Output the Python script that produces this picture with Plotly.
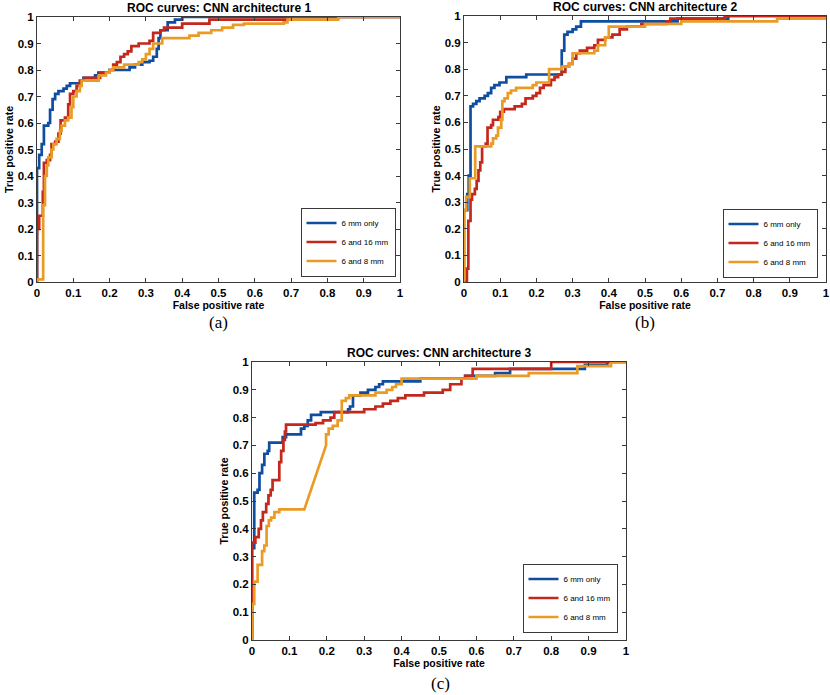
import plotly.graph_objects as go

# ---------------- data ----------------
series_names = ["6 mm only", "6 and 16 mm", "6 and 8 mm"]
panel_titles = ["ROC curves: CNN architecture 1",
                "ROC curves: CNN architecture 2",
                "ROC curves: CNN architecture 3"]
panel_labels = ["(a)", "(b)", "(c)"]
x_axis_title = "False positive rate"
y_axis_title = "True positive rate"
tick_values = [0, 0.1, 0.2, 0.3, 0.4, 0.5, 0.6, 0.7, 0.8, 0.9, 1]
tick_labels = ["0", "0.1", "0.2", "0.3", "0.4", "0.5", "0.6", "0.7", "0.8", "0.9", "1"]

# Each curve: (fpr, tpr) step points - move right to fpr[i], then up to tpr[i]
# --- architecture 1 ---
a1_fpr = [0, 0, 0.006, 0.013, 0.019, 0.031, 0.036, 0.043, 0.05, 0.059, 0.073, 0.082, 0.091,
          0.123, 0.128, 0.16, 0.169, 0.20, 0.255, 0.27, 0.29, 0.31, 0.32, 0.33, 0.335, 0.34,
          0.36, 0.38, 0.40, 1.0]
a1_tpr = [0, 0.43, 0.48, 0.52, 0.59, 0.60, 0.65, 0.69, 0.71, 0.72, 0.73, 0.74, 0.75,
          0.76, 0.77, 0.78, 0.79, 0.80, 0.81, 0.82, 0.83, 0.835, 0.85, 0.88, 0.92, 0.95,
          0.98, 0.99, 1.0, 1.0]
a2_fpr = [0, 0, 0.006, 0.016, 0.019, 0.027, 0.036, 0.040, 0.050, 0.059, 0.065, 0.077, 0.086,
          0.091, 0.10, 0.109, 0.118, 0.13, 0.174, 0.20, 0.21, 0.22, 0.23, 0.24, 0.25, 0.26,
          0.28, 0.31, 0.32, 0.34, 0.35, 0.40, 0.475, 0.69, 1.0]
a2_tpr = [0, 0.20, 0.25, 0.34, 0.45, 0.46, 0.48, 0.52, 0.53, 0.56, 0.61, 0.62, 0.67,
          0.71, 0.72, 0.74, 0.76, 0.77, 0.79, 0.80, 0.82, 0.83, 0.85, 0.86, 0.87, 0.89,
          0.90, 0.91, 0.94, 0.95, 0.96, 0.975, 0.99, 1.0, 1.0]
a3_fpr = [0, 0, 0.017, 0.022, 0.027, 0.031, 0.040, 0.045, 0.054, 0.063, 0.068, 0.077, 0.086,
          0.095, 0.10, 0.109, 0.118, 0.123, 0.17, 0.19, 0.20, 0.21, 0.24, 0.28, 0.29, 0.30,
          0.31, 0.32, 0.345, 0.42, 0.445, 0.48, 0.51, 0.54, 0.57, 0.68, 0.69, 0.83, 1.0]
a3_tpr = [0, 0.01, 0.29, 0.40, 0.44, 0.47, 0.50, 0.52, 0.54, 0.57, 0.59, 0.61, 0.62,
          0.66, 0.70, 0.72, 0.74, 0.76, 0.78, 0.79, 0.80, 0.81, 0.82, 0.83, 0.84, 0.86,
          0.88, 0.90, 0.92, 0.93, 0.94, 0.95, 0.96, 0.97, 0.975, 0.98, 0.99, 1.0, 1.0]

# --- architecture 2 ---
b1_fpr = [0, 0, 0.009, 0.013, 0.018, 0.025, 0.034, 0.043, 0.057, 0.066, 0.075, 0.084, 0.098,
          0.117, 0.172, 0.27, 0.277, 0.286, 0.30, 0.31, 0.323, 0.59, 0.73, 1.0]
b1_tpr = [0, 0.27, 0.33, 0.40, 0.66, 0.67, 0.68, 0.69, 0.70, 0.71, 0.73, 0.74, 0.75,
          0.77, 0.78, 0.87, 0.93, 0.94, 0.95, 0.96, 0.98, 0.99, 1.0, 1.0]
b2_fpr = [0, 0.008, 0.012, 0.018, 0.022, 0.03, 0.035, 0.04, 0.045, 0.05, 0.06, 0.065, 0.075,
          0.08, 0.095, 0.10, 0.11, 0.14, 0.16, 0.17, 0.19, 0.20, 0.21, 0.22, 0.24, 0.25,
          0.26, 0.27, 0.28, 0.29, 0.30, 0.31, 0.32, 0.34, 0.36, 0.37, 0.39, 0.41, 0.43,
          0.45, 0.49, 0.56, 0.57, 0.72, 1.0]
b2_tpr = [0, 0.05, 0.23, 0.31, 0.33, 0.35, 0.38, 0.42, 0.45, 0.51, 0.52, 0.58, 0.59,
          0.61, 0.62, 0.64, 0.65, 0.66, 0.67, 0.69, 0.70, 0.71, 0.73, 0.74, 0.76, 0.77,
          0.78, 0.79, 0.81, 0.82, 0.84, 0.86, 0.87, 0.88, 0.89, 0.91, 0.92, 0.93, 0.95,
          0.96, 0.97, 0.98, 0.99, 1.0, 1.0]
b3_fpr = [0, 0, 0.006, 0.016, 0.031, 0.075, 0.08, 0.089, 0.094, 0.103, 0.106, 0.112, 0.121,
          0.13, 0.144, 0.19, 0.20, 0.235, 0.27, 0.29, 0.30, 0.36, 0.37, 0.39, 0.40, 0.50,
          0.60, 0.865, 1.0]
b3_tpr = [0, 0.27, 0.32, 0.39, 0.51, 0.52, 0.54, 0.55, 0.58, 0.61, 0.68, 0.69, 0.71,
          0.72, 0.73, 0.74, 0.75, 0.80, 0.81, 0.82, 0.86, 0.87, 0.89, 0.92, 0.96, 0.97,
          0.98, 0.99, 0.99]

# --- architecture 3 ---
c1_fpr = [0, 0, 0.006, 0.015, 0.020, 0.027, 0.033, 0.042, 0.046, 0.082, 0.091, 0.131, 0.14,
          0.149, 0.158, 0.184, 0.257, 0.262, 0.27, 0.29, 0.31, 0.33, 0.34, 0.35, 0.45, 0.57,
          0.65, 0.69, 0.89, 0.95, 1.0]
c1_tpr = [0, 0.33, 0.53, 0.54, 0.60, 0.63, 0.67, 0.68, 0.71, 0.73, 0.74, 0.76, 0.77,
          0.79, 0.81, 0.82, 0.83, 0.84, 0.88, 0.89, 0.90, 0.91, 0.92, 0.93, 0.94, 0.95,
          0.96, 0.975, 0.99, 1.0, 1.0]
c2_fpr = [0, 0, 0.009, 0.018, 0.024, 0.029, 0.038, 0.044, 0.05, 0.055, 0.073, 0.078, 0.084,
          0.088, 0.091, 0.17, 0.19, 0.21, 0.22, 0.30, 0.33, 0.35, 0.37, 0.39, 0.41, 0.46,
          0.51, 0.53, 0.56, 0.57, 0.59, 0.80, 1.0]
c2_tpr = [0, 0.35, 0.37, 0.40, 0.43, 0.46, 0.49, 0.52, 0.54, 0.575, 0.64, 0.68, 0.72,
          0.75, 0.775, 0.78, 0.79, 0.80, 0.82, 0.83, 0.84, 0.85, 0.86, 0.87, 0.88, 0.89,
          0.90, 0.92, 0.94, 0.95, 0.975, 1.0, 1.0]
c3_fpr = [0, 0, 0.006, 0.015, 0.027, 0.033, 0.039, 0.045, 0.051, 0.06, 0.073, 0.14, 0.198,
          0.198, 0.205, 0.216, 0.229, 0.24, 0.251, 0.26, 0.33, 0.36, 0.375, 0.385, 0.40,
          0.60, 0.74, 0.87, 0.96, 1.0]
c3_tpr = [0, 0.13, 0.21, 0.27, 0.32, 0.34, 0.41, 0.43, 0.44, 0.46, 0.47, 0.47, 0.70,
          0.74, 0.76, 0.77, 0.79, 0.86, 0.87, 0.88, 0.89, 0.90, 0.91, 0.92, 0.94,
          0.95, 0.96, 0.985, 1.0, 1.0]
c3_diagonal_segments = [11]   # segment 11 -> 12 is a straight (tied-score) line

panels_data = [
    [(a1_fpr, a1_tpr, []), (a2_fpr, a2_tpr, []), (a3_fpr, a3_tpr, [])],
    [(b1_fpr, b1_tpr, []), (b2_fpr, b2_tpr, []), (b3_fpr, b3_tpr, [])],
    [(c1_fpr, c1_tpr, []), (c2_fpr, c2_tpr, []), (c3_fpr, c3_tpr, c3_diagonal_segments)],
]

# ---------------- styling / layout ----------------
W, H = 830, 695
colors = ["#0F4DA0", "#C4281C", "#EA9B26"]
# plot-area boxes in pixels: left, right, top, bottom
boxes = [(37, 400, 17, 282), (464, 826, 16, 282), (252, 626, 362, 640)]
legend_center = [(348, 242), (770, 243), (570, 598)]
label_pos = [(218, 322), (645, 322), (440, 683)]

SANS = "Liberation Sans, Arial, sans-serif"
SERIF = "Liberation Serif, Times New Roman, serif"


def fx_(px):
    return px / W


def fy_(py):
    return 1 - py / H


def roc_path(fpr, tpr, diagonal):
    xs, ys = [fpr[0]], [tpr[0]]
    for i in range(1, len(fpr)):
        if (i - 1) not in diagonal:
            xs.append(fpr[i]); ys.append(tpr[i - 1])
        xs.append(fpr[i]); ys.append(tpr[i])
    return xs, ys


fig = go.Figure()
for p, curves in enumerate(panels_data):
    ax = "" if p == 0 else str(p + 1)
    leg = "legend" if p == 0 else "legend" + str(p + 1)
    for s, (fx, ty, diag) in enumerate(curves):
        xs, ys = roc_path(fx, ty, diag)
        fig.add_trace(go.Scatter(
            x=xs, y=ys, mode="lines", name=series_names[s],
            line=dict(color=colors[s], width=2.7),
            xaxis="x" + ax, yaxis="y" + ax, legend=leg,
            hoverinfo="skip",
        ))

layout = dict(
    template="none",
    width=W, height=H, margin=dict(l=0, r=0, t=0, b=0, autoexpand=False),
    paper_bgcolor="white", plot_bgcolor="white", showlegend=True,
    font=dict(family=SANS, color="black"),
)
annotations = []
axis_common = dict(
    range=[0, 1], tickmode="array", tickvals=tick_values, ticktext=tick_labels,
    showgrid=False, zeroline=False, showline=True, linecolor="#3a3a3a", linewidth=1,
    mirror="ticks", ticks="inside", ticklen=4, tickcolor="#3a3a3a", tickwidth=1,
    tickfont=dict(family=SANS, size=11.5, color="black", weight="bold"),
    fixedrange=True, automargin=False,
)
for p, (l, r, t, b) in enumerate(boxes):
    ax = "" if p == 0 else str(p + 1)
    layout["xaxis" + ax] = dict(
        axis_common, domain=[fx_(l), fx_(r)], anchor="y" + ax,
        title=dict(text=x_axis_title, standoff=0,
                   font=dict(family=SANS, size=10.5, color="black", weight="bold")),
    )
    layout["yaxis" + ax] = dict(
        axis_common, domain=[fy_(b), fy_(t)], anchor="x" + ax,
        title=dict(text=y_axis_title, standoff=2,
                   font=dict(family=SANS, size=10.5, color="black", weight="bold")),
    )
    lx, ly = legend_center[p]
    layout["legend" if p == 0 else "legend" + str(p + 1)] = dict(
        x=fx_(lx), y=fy_(ly), xanchor="center", yanchor="middle",
        xref="paper", yref="paper",
        bgcolor="white", bordercolor="#3a3a3a", borderwidth=1,
        font=dict(family=SANS, size=8, color="black"),
        itemwidth=30, tracegroupgap=0,
    )
    annotations.append(dict(
        text=panel_titles[p], xref="x" + ax + " domain", yref="y" + ax + " domain",
        x=0.5, y=1, xanchor="center", yanchor="bottom", yshift=0, showarrow=False,
        font=dict(family=SANS, size=12, color="black", weight="bold"),
    ))
    px, py = label_pos[p]
    annotations.append(dict(
        text=panel_labels[p], xref="paper", yref="paper",
        x=fx_(px), y=fy_(py), xanchor="center", yanchor="middle", showarrow=False,
        font=dict(family=SERIF, size=17, color="black"),
    ))
layout["annotations"] = annotations
fig.update_layout(**layout)

# remove the browser's default 8px page margin so the figure fills the window
fig.write_html("out.html", config={"displayModeBar": False},
               post_script="document.body.style.margin='0px';")
